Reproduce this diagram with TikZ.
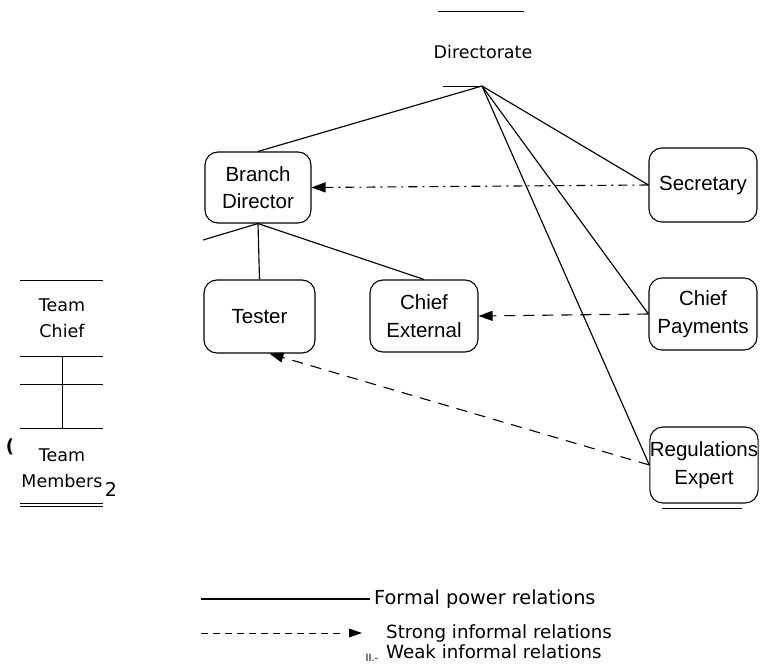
\documentclass[tikz,border=0pt]{standalone}
\usepackage{fontspec}
\setmainfont{Liberation Sans}
\newfontfamily\dv{DejaVu Sans}
\usetikzlibrary{arrows.meta}
\begin{document}
\begin{tikzpicture}[x=1pt,y=-1pt,
  role/.style={draw, rounded corners=13pt, line width=1.1pt, align=center,
    font=\fontsize{20.5}{27.5}\selectfont, inner sep=0pt},
  formal/.style={line width=1.15pt},
  tip/.style={-{Triangle[length=14pt,width=10pt]}},
  strong/.style={line width=1.1pt, dash pattern=on 11pt off 8pt, tip},
  weak/.style={line width=1.1pt, dash pattern=on 9pt off 5pt on 2pt off 5pt, tip},
  caption/.style={font=\dv\fontsize{17.5}{26.5}\selectfont, align=center, inner sep=0pt},
  legendtext/.style={font=\dv\fontsize{18.2}{24}\selectfont, anchor=west, inner sep=0pt},
  rule/.style={line width=1pt},
]
\useasboundingbox (0,0) rectangle (761,666);

% Directorate heading
\draw[rule] (438,12) -- (524,12);
\node[caption] (dir) at (483,52) {Directorate};
\coordinate (hub) at (482,86);
\coordinate (hubl) at (443,86);
\draw[line width=0.6pt] (hubl) -- (hub);

% role boxes
\node[role, minimum width=106pt, minimum height=71pt] (bd)  at (258,187.5) {Branch\\Director};
\node[role, minimum width=108pt, minimum height=74pt] (sec) at (703,185) {Secretary};
\node[role, minimum width=111pt, minimum height=73pt] (tes) at (259.5,316.5) {Tester};
\node[role, minimum width=108pt, minimum height=72pt] (ce)  at (424,316) {Chief\\External};
\node[role, minimum width=108pt, minimum height=72pt] (cp)  at (703,314) {Chief\\Payments};
\node[role, minimum width=108pt, minimum height=76pt] (re)  at (704,465) {Regulations\\Expert};
\coordinate (reu1) at (662,508);
\coordinate (reu2) at (742,508);
\draw[line width=0.6pt] (reu1) -- (reu2);

% formal power relations
\draw[formal] (hub) -- (bd.north);
\draw[formal] (hub) -- (sec.west);
\draw[formal] (hub) -- (cp.west);
\draw[formal] (hub) -- (re.west);
\coordinate (bdl) at (203,240);
\draw[formal] (bd.south) -- (tes.north);
\draw[formal] (bd.south) -- (ce.north);
\draw[formal] (bd.south) -- (bdl);

% informal relations
\draw[weak] (sec.west) -- (bd.east);
\draw[strong] (cp.west) -- (ce.east);
\draw[strong] (re.west) -- (tes.-75);

% team block
\draw[rule] (20,280) -- (103,280);
\node[caption] (tc) at (62,318) {Team\\Chief};
\coordinate (t1l) at (20,356); \coordinate (t1r) at (103,356);
\coordinate (t2l) at (20,384); \coordinate (t2r) at (103,384);
\coordinate (t3l) at (20,428); \coordinate (t3r) at (103,428);
\coordinate (tv1) at (62,356);  \coordinate (tv2) at (62,428);
\draw[rule] (t1l) -- (t1r);
\draw[rule] (t2l) -- (t2r);
\draw[rule] (t3l) -- (t3r);
\draw[rule] (tv1) -- (tv2);
\node[caption, font=\dv\bfseries\fontsize{18}{18}\selectfont] (par) at (10,447) {(};
\node[caption] (tm) at (62,468) {Team\\Members};
\node[caption, font=\dv\fontsize{19}{19}\selectfont] (two) at (111,489) {2};
\draw[rule] (20,503) -- (103,503);
\draw[rule] (20,506.5) -- (103,506.5);

% legend
\coordinate (l1a) at (201,599); \coordinate (l1b) at (370,599);
\draw[formal] (l1a) -- (l1b);
\node[legendtext, font=\dv\fontsize{19.3}{24}\selectfont] (lg1) at (374,599) {Formal power relations};
\coordinate (l2a) at (201,633); \coordinate (l2b) at (342,633);
\draw[line width=0.9pt, dash pattern=on 7pt off 5pt] (l2a) -- (l2b);
\coordinate (ar1) at (349,628.5); \coordinate (ar2) at (362,633); \coordinate (ar3) at (349,637.5);
\fill (ar1) -- (ar2) -- (ar3) -- cycle;
\node[legendtext] (lg2) at (386,633) {Strong informal relations};
\node[font=\dv\fontsize{10}{10}\selectfont, inner sep=0pt] (wk) at (372,658) {II.-};
\node[legendtext] (lg3) at (386,652) {Weak informal relations};
\end{tikzpicture}
\end{document}
